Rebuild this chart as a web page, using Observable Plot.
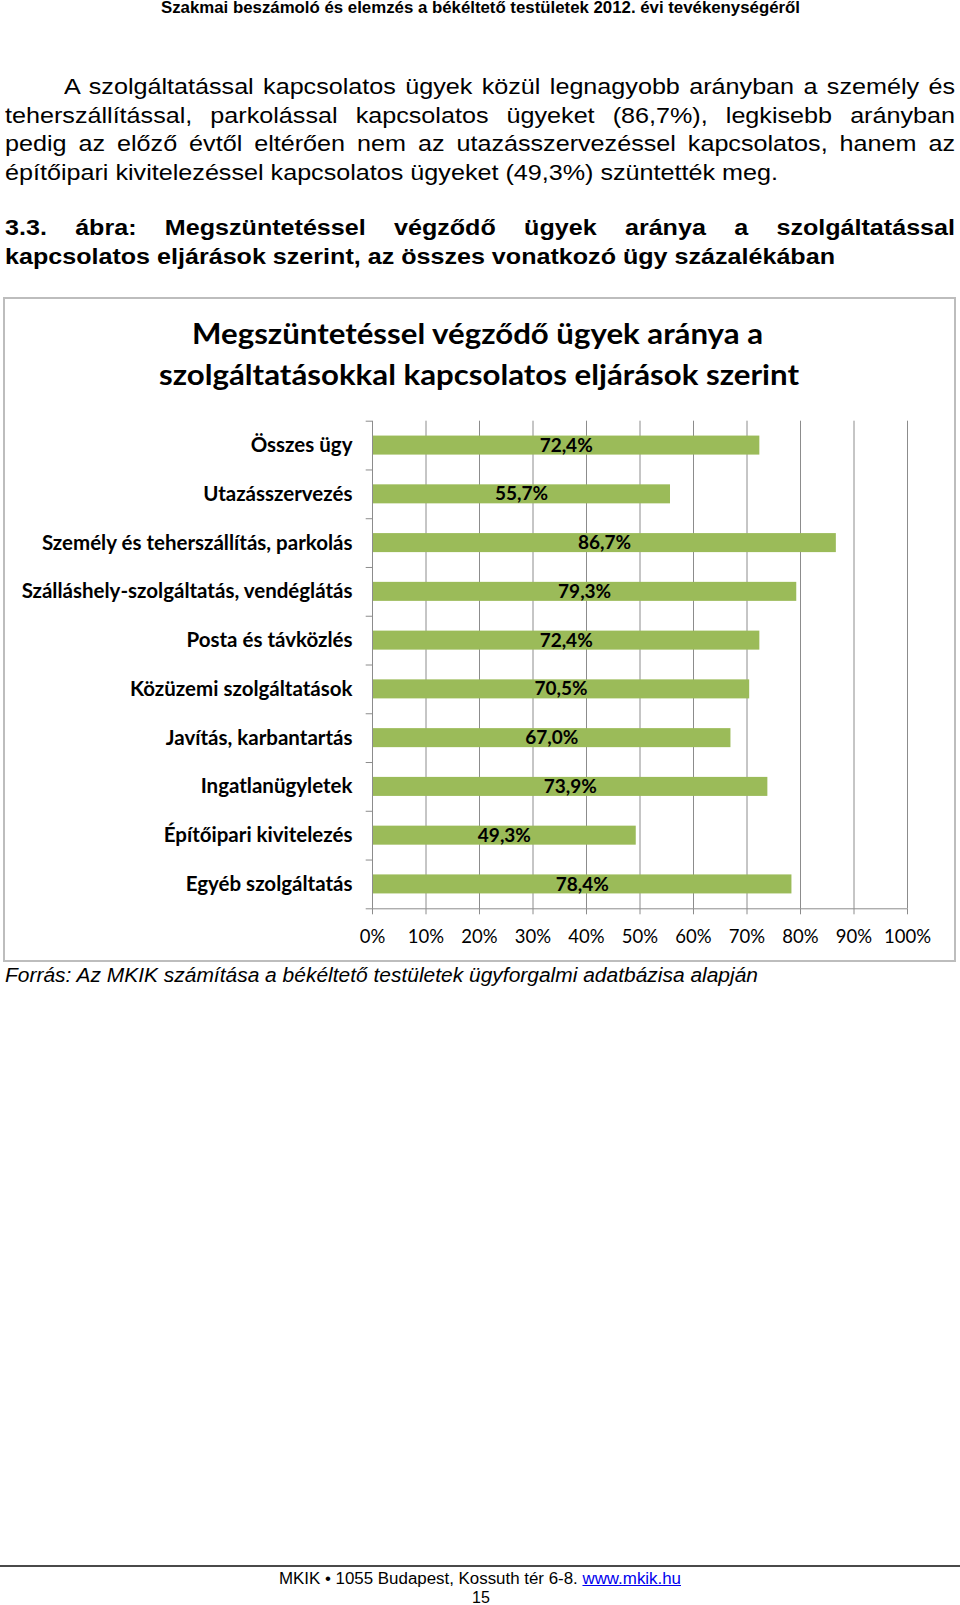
<!DOCTYPE html>
<html>
<head>
<meta charset="utf-8">
<script src="https://cdn.jsdelivr.net/npm/d3@7"></script>
<script src="https://cdn.jsdelivr.net/npm/@observablehq/plot@0.6"></script>
<style>
  html, body { margin: 0; padding: 0; background: #fff; }
  body { width: 960px; height: 1605px; position: relative; overflow: hidden; color: #000; }
  .ln { position: absolute; white-space: nowrap; }
  .arial { font-family: "Liberation Sans", Arial, sans-serif; }
  .lato { font-family: Lato, "Open Sans", sans-serif; }
  #box { position: absolute; left: 3px; top: 297px; width: 949px; height: 661px; border: 2px solid #bdbdbd; }
  #chart { position: absolute; left: 0; top: 400px; }
  #hr { position: absolute; left: 0; top: 1565px; width: 960px; height: 2px; background: #4a4a4a; }
  a { color: #0000ee; }
</style>
</head>
<body>
<div class="ln arial" id="hdr" style="font-weight:bold;font-size:16px;line-height:18px;top:-1px;left:161px;">Szakmai beszámoló és elemzés a békéltető testületek 2012. évi tevékenységéről</div>

<div class="ln arial" id="p1" style="font-size:22px;line-height:26px;top:74px;left:64px;">A szolgáltatással kapcsolatos ügyek közül legnagyobb arányban a személy és</div>
<div class="ln arial" id="p2" style="font-size:22px;line-height:26px;top:103px;left:5px;">teherszállítással, parkolással kapcsolatos ügyeket (86,7%), legkisebb arányban</div>
<div class="ln arial" id="p3" style="font-size:22px;line-height:26px;top:131px;left:5px;">pedig az előző évtől eltérően nem az utazásszervezéssel kapcsolatos, hanem az</div>
<div class="ln arial" id="p4" style="font-size:22px;line-height:26px;top:160px;left:5px;">építőipari kivitelezéssel kapcsolatos ügyeket (49,3%) szüntették meg.</div>

<div class="ln arial" id="h1" style="font-weight:bold;font-size:22px;line-height:26px;top:215px;left:5px;">3.3. ábra: Megszüntetéssel végződő ügyek aránya a szolgáltatással</div>
<div class="ln arial" id="h2" style="font-weight:bold;font-size:22px;line-height:26px;top:244px;left:5px;">kapcsolatos eljárások szerint, az összes vonatkozó ügy százalékában</div>

<div id="box"></div>
<div class="ln lato" id="t1" style="font-weight:bold;font-size:28px;line-height:34px;top:316px;left:192px;">Megszüntetéssel végződő ügyek aránya a</div>
<div class="ln lato" id="t2" style="font-weight:bold;font-size:28px;line-height:34px;top:357px;left:159px;">szolgáltatásokkal kapcsolatos eljárások szerint</div>
<div id="chart"></div>

<div class="ln arial" id="src" style="font-style:italic;font-size:20px;line-height:24px;top:963px;left:5px;">Forrás: Az MKIK számítása a békéltető testületek ügyforgalmi adatbázisa alapján</div>

<div id="hr"></div>
<div class="ln arial" id="f1" style="font-size:16px;line-height:18px;top:1570px;left:279px;">MKIK • 1055 Budapest, Kossuth tér 6-8. <a href="#">www.mkik.hu</a></div>
<div class="ln arial" id="f2" style="font-size:16px;line-height:18px;top:1589px;left:472px;">15</div>

<script>
// ---- data ----
const categories = [
  "Összes ügy",
  "Utazásszervezés",
  "Személy és teherszállítás, parkolás",
  "Szálláshely-szolgáltatás, vendéglátás",
  "Posta és távközlés",
  "Közüzemi szolgáltatások",
  "Javítás, karbantartás",
  "Ingatlanügyletek",
  "Építőipari kivitelezés",
  "Egyéb szolgáltatás"
];
const values = [72.4, 55.7, 86.7, 79.3, 72.4, 70.5, 67.0, 73.9, 49.3, 78.4];
const xTicks = [0, 10, 20, 30, 40, 50, 60, 70, 80, 90, 100];

const data = categories.map((c, i) => ({cat: c, value: values[i]}));
const fmt = v => v.toFixed(1).replace(".", ",") + "%";

// ---- layout ----
const W = 960, H = 560;
const mTop = 20.7, mBottom = 51.7, mLeft = 372, mRight = 53;
const step = (H - mTop - mBottom) / categories.length;
const pxPerUnit = (W - mLeft - mRight) / 100;
const tickLen = 6.3 / pxPerUnit;
const gray = "#8c8c8c";

const chart = Plot.plot({
  width: W,
  height: H,
  marginTop: mTop,
  marginBottom: mBottom,
  marginLeft: mLeft,
  marginRight: mRight,
  style: {fontFamily: "Lato, 'Open Sans', sans-serif", fontSize: "18px", background: "transparent", color: "#000", overflow: "visible"},
  x: {domain: [0, 100], axis: null, label: null},
  y: {domain: categories, paddingInner: 0.61, paddingOuter: 0.305, round: false, axis: null, label: null},
  marks: [
    Plot.gridX(xTicks.slice(1), {stroke: gray, strokeOpacity: 1, strokeWidth: 1}),
    Plot.barX(data, {x: "value", y: "cat", fill: "#9bbb59"}),
    Plot.ruleX([0], {stroke: gray, strokeWidth: 1}),
    Plot.ruleY(categories, {y: d => d, x1: -tickLen, x2: 0, dy: -step / 2, stroke: gray}),
    Plot.ruleY(categories.slice(-1), {y: d => d, x1: -tickLen, x2: 100, dy: step / 2, stroke: gray}),
    Plot.axisX({ticks: xTicks, tickSize: 6, tickPadding: 15, tickFormat: d => d + "%", stroke: gray, fontSize: 18.5, label: null}),
    Plot.axisY({tickSize: 0, tickPadding: 20, fontWeight: "bold", fontSize: 20.5, label: null}),
    Plot.text(data, {x: d => d.value / 2, y: "cat", text: d => fmt(d.value), fontWeight: "bold", fontSize: 19, fill: "#000"})
  ]
});
document.getElementById("chart").appendChild(chart);

// ---- fit page text lines to the widths in the reference ----
function natural(id) {
  const el = document.getElementById(id);
  el.style.display = "inline-block";
  return el.getBoundingClientRect().width;
}
function scaleTo(id, target) {
  const el = document.getElementById(id);
  const w = natural(id);
  const k = target / w;
  el.style.transformOrigin = "left center";
  el.style.transform = `scaleX(${k})`;
  return k;
}
function justify(id, target, k) {
  const el = document.getElementById(id);
  const w = natural(id);
  const n = (el.textContent.match(/ /g) || []).length;
  el.style.wordSpacing = ((target / k - w) / n) + "px";
  el.style.transformOrigin = "left center";
  el.style.transform = `scaleX(${k})`;
}
scaleTo("hdr", 639);
const kp = scaleTo("p4", 773);
justify("p1", 955 - 64, kp);
justify("p2", 950, kp);
justify("p3", 950, kp);
const kh = scaleTo("h2", 830);
justify("h1", 950, kh);
scaleTo("t1", 571);
scaleTo("t2", 640);
scaleTo("src", 753);
scaleTo("f1", 402);
</script>
</body>
</html>
